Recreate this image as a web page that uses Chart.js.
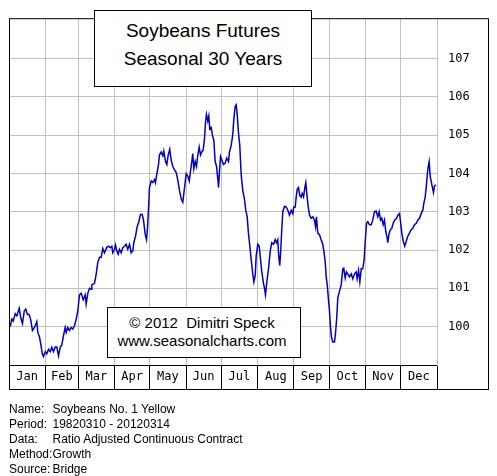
<!DOCTYPE html>
<html>
<head>
<meta charset="utf-8">
<title>Soybeans Futures Seasonal 30 Years</title>
<script src="https://cdn.jsdelivr.net/npm/chart.js@4.4.1/dist/chart.umd.min.js"></script>
<style>
  body { margin: 0; background: #fff; }
  #wrap { position: relative; width: 497px; height: 476px; }
  #chartBox { position: absolute; left: 0; top: 0; width: 497px; height: 476px; }
  .box {
    position: absolute; box-sizing: border-box; border: 1px solid #000; background: #fff;
    font-family: "Liberation Sans", Arial, sans-serif; color: #000; text-align: center; white-space: pre;
  }
  #titleBox { left: 94px; top: 10px; width: 218px; height: 77px; font-size: 19px; line-height: 28px; padding-top: 6px; }
  #copyBox { left: 107px; top: 307px; width: 194px; height: 51px; font-size: 15px; line-height: 18px; padding-top: 6px; padding-right: 4px; }
  #info { position: absolute; left: 9px; top: 402px; font-family: "Liberation Sans", Arial, sans-serif; font-size: 12px; line-height: 15px; color: #000; white-space: nowrap; }
  #info span { display: inline-block; width: 43.5px; }
</style>
</head>
<body>
<div id="wrap">
  <div id="chartBox"><canvas id="seasonalChart"></canvas></div>
  <div class="box" id="titleBox">Soybeans Futures
Seasonal 30 Years</div>
  <div class="box" id="copyBox">© 2012  Dimitri Speck
www.seasonalcharts.com</div>
  <div id="info">
    <div><span>Name:</span>Soybeans No. 1 Yellow</div>
    <div><span>Period:</span>19820310 - 20120314</div>
    <div><span>Data:</span>Ratio Adjusted Continuous Contract</div>
    <div><span>Method:</span>Growth</div>
    <div><span>Source:</span>Bridge</div>
  </div>
</div>
<script>
  // day of year and seasonal index
  const days = [
    1.0, 2.4, 3.6, 5.3, 6.7, 8.7, 10.1, 11.5, 13.0, 14.3, 15.8, 17.2, 18.6, 20.0, 21.7, 23.7, 24.6, 26.0, 27.5, 28.3,
    29.4, 30.9, 32.2, 33.7, 35.1, 36.5, 37.9, 39.4, 40.8, 42.2, 43.7, 45.0, 46.5, 47.9, 48.8, 50.1, 51.6, 53.0, 54.4, 55.9,
    57.3, 58.7, 60.1, 61.6, 63.3, 65.0, 65.8, 67.2, 68.7, 70.1, 70.6, 72.9, 74.4, 75.7, 77.2, 78.6, 80.0, 81.4, 83.4, 84.9,
    86.3, 87.7, 88.5, 90.0, 90.8, 91.9, 93.1, 94.2, 95.7, 97.0, 98.5, 99.9, 101.3, 102.8, 104.2, 105.6, 106.4, 107.9, 109.3, 110.7,
    112.1, 113.6, 114.7, 116.2, 117.3, 118.1, 119.0, 119.8, 121.3, 122.6, 124.1, 124.9, 126.0, 127.5, 128.3, 129.8, 131.2, 132.0, 133.5, 134.6,
    135.8, 137.1, 138.3, 139.7, 141.1, 142.6, 143.9, 145.4, 146.9, 148.2, 149.7, 151.1, 152.5, 153.7, 154.8, 155.9, 156.7, 157.6, 158.8, 159.9,
    161.0, 162.2, 163.3, 164.4, 165.6, 166.7, 167.6, 168.4, 169.5, 170.4, 171.2, 172.4, 173.5, 174.7, 175.8, 177.0, 178.1, 178.7, 179.5, 180.4,
    181.5, 182.9, 184.4, 185.7, 187.2, 188.0, 189.5, 190.9, 191.7, 192.9, 193.8, 194.6, 195.7, 196.8, 198.0, 199.4, 200.8, 201.9, 203.1, 204.2,
    205.4, 206.5, 207.7, 208.8, 210.0, 210.8, 212.2, 213.4, 214.5, 215.6, 216.8, 217.9, 218.7, 219.9, 221.3, 222.8, 224.1, 225.6, 227.0, 228.1,
    229.2, 230.1, 230.9, 231.8, 232.6, 233.5, 235.0, 236.4, 237.8, 239.2, 240.7, 242.0, 242.9, 244.1, 244.9, 245.8, 246.9, 248.0, 249.2, 250.0,
    251.2, 252.3, 253.1, 254.0, 255.2, 256.3, 257.7, 259.1, 260.5, 261.4, 262.2, 263.3, 264.8, 266.2, 267.6, 268.5, 269.7, 270.5, 271.4, 272.2,
    273.3, 274.2, 275.0, 276.1, 277.6, 278.4, 279.5, 280.4, 281.8, 283.3, 284.7, 285.5, 286.7, 287.8, 288.9, 290.4, 291.8, 293.2, 294.6, 296.1,
    296.9, 298.1, 299.2, 300.4, 301.7, 302.9, 303.8, 304.9, 306.0, 307.4, 308.9, 310.2, 311.7, 313.1, 314.5, 315.7, 316.8, 317.9, 319.1, 320.2,
    321.3, 322.5, 323.0, 324.2, 325.3, 326.5, 327.6, 328.8, 330.5, 331.6, 333.0, 333.9, 335.0, 336.2, 337.5, 338.7, 340.1, 341.5, 343.0, 344.4,
    345.8, 347.3, 348.6, 350.1, 351.5, 352.9, 353.7, 354.9, 355.8, 356.6, 357.5, 358.3, 359.2, 360.0, 361.1, 362.0, 362.8, 364.0
  ];
  const values = [
    100.0, 100.2, 100.15, 100.34, 100.28, 100.48, 100.22, 100.08, 100.41, 100.46, 100.32, 100.32, 100.17, 99.9, 99.98, 100.13, 99.85, 99.73, 99.47, 99.3,
    99.22, 99.35, 99.29, 99.41, 99.35, 99.46, 99.35, 99.47, 99.47, 99.24, 99.47, 99.52, 99.77, 99.98, 99.85, 99.98, 99.9, 99.98, 99.94, 100.03,
    100.2, 100.41, 100.83, 100.87, 100.7, 100.83, 100.59, 100.87, 101.0, 100.98, 101.09, 101.13, 101.38, 101.68, 101.81, 101.81, 102.04, 101.93, 102.07, 102.1,
    102.06, 102.1, 101.93, 102.02, 102.13, 101.98, 101.89, 102.02, 101.93, 102.06, 102.1, 102.15, 102.02, 102.15, 101.93, 101.98, 102.19, 102.36, 102.61, 102.74,
    102.93, 102.93, 102.78, 102.4, 102.27, 102.57, 103.08, 103.63, 103.8, 103.76, 103.84, 103.76, 103.97, 104.23, 104.48, 104.56, 104.46, 104.58, 104.31, 104.23,
    104.48, 104.63, 104.35, 104.18, 104.1, 104.02, 103.84, 103.55, 103.33, 103.25, 103.63, 103.99, 103.93, 103.8, 104.06, 104.31, 104.52, 104.12, 104.31, 104.18,
    104.48, 104.69, 104.48, 104.56, 104.61, 104.9, 105.33, 105.54, 105.37, 105.5, 105.16, 105.2, 104.99, 104.86, 104.31, 104.18, 103.84, 103.63, 104.06, 104.44,
    104.35, 104.23, 104.27, 104.4, 104.31, 104.56, 104.73, 105.03, 105.41, 105.75, 105.79, 105.54, 105.07, 104.73, 103.97, 103.55, 103.33, 103.04, 102.87, 102.44,
    102.1, 101.76, 101.43, 101.17, 101.34, 101.85, 102.15, 102.1, 101.76, 101.43, 101.17, 101.0, 100.83, 101.17, 101.51, 101.98, 102.19, 102.15, 102.27, 102.19,
    102.27, 101.81, 101.6, 102.02, 102.53, 103.0, 103.14, 103.12, 103.04, 102.91, 103.04, 102.95, 103.12, 103.12, 103.38, 103.59, 103.63, 103.42, 103.38, 103.48,
    103.39, 103.63, 103.76, 103.46, 103.12, 102.91, 102.83, 102.87, 102.78, 102.61, 102.87, 102.44, 102.4, 102.27, 102.15, 101.98, 101.68, 101.3, 101.09, 100.79,
    100.41, 99.98, 99.73, 99.6, 99.6, 99.81, 100.24, 100.75, 100.92, 101.09, 101.51, 101.53, 101.27, 101.43, 101.38, 101.3, 101.38, 101.25, 101.38, 101.43,
    101.25, 101.47, 101.17, 101.51, 101.51, 101.76, 102.23, 102.7, 102.74, 102.66, 102.66, 102.78, 103.0, 103.02, 102.87, 103.0, 102.78, 102.83, 102.66, 102.78,
    102.49, 102.32, 102.19, 102.44, 102.53, 102.57, 102.7, 102.78, 102.83, 102.91, 102.95, 102.74, 102.44, 102.23, 102.1, 102.23, 102.36, 102.44, 102.53, 102.57,
    102.66, 102.7, 102.78, 102.83, 102.95, 103.04, 103.21, 103.38, 103.63, 103.93, 104.18, 104.31, 103.93, 103.8, 103.63, 103.5, 103.67, 103.7
  ];
  const monthNames = ["Jan", "Feb", "Mar", "Apr", "May", "Jun", "Jul", "Aug", "Sep", "Oct", "Nov", "Dec"];
  const monthStarts = [0, 31, 59, 90, 120, 151, 181, 212, 243, 273, 304, 334, 365];
  const yTicks = [100, 101, 102, 103, 104, 105, 106, 107];

  const monthMids = monthNames.map((m, i) => (monthStarts[i] + monthStarts[i + 1]) / 2);
  const xTicks = monthStarts.concat(monthMids).sort((a, b) => a - b);
  const isStart = (c) => c.tick && monthStarts.includes(c.tick.value);

  // black frame round plot area, month row and right labels
  const framePlugin = {
    id: "frame",
    afterDraw(chart) {
      const { ctx, chartArea, scales } = chart;
      ctx.save();
      ctx.strokeStyle = "#000";
      ctx.lineWidth = 1;
      ctx.strokeRect(chartArea.left + 0.5, chartArea.top + 0.5,
        scales.y.right - chartArea.left, scales.x.bottom - chartArea.top);
      ctx.restore();
    }
  };

  const ctx = document.getElementById("seasonalChart").getContext("2d");
  const seasonalChart = new Chart(ctx, {
    type: "line",
    data: {
      datasets: [{
        data: days.map((d, i) => ({ x: d, y: values[i] })),
        borderColor: "#0000c8",
        borderWidth: 1.5,
        pointRadius: 0,
        tension: 0
      }]
    },
    options: {
      responsive: true,
      maintainAspectRatio: false,
      animation: false,
      layout: { padding: { left: 9, top: 10, right: 9, bottom: 87 } },
      plugins: { legend: { display: false }, tooltip: { enabled: false } },
      scales: {
        x: {
          type: "linear",
          min: 0,
          max: 365,
          afterBuildTicks: (s) => { s.ticks = xTicks.map(v => ({ value: v })); },
          afterFit: (s) => { s.height = 24; },
          grid: {
            color: (c) => isStart(c) ? "#c0c0c0" : "rgba(0,0,0,0)",
            tickColor: (c) => isStart(c) ? "#000" : "rgba(0,0,0,0)",
            tickLength: 24,
            lineWidth: 1
          },
          border: { color: "#000" },
          ticks: {
            autoSkip: false,
            maxRotation: 0,
            padding: -19,
            color: "#000",
            font: { family: "DejaVu Sans Mono", size: 12 },
            callback: (v) => {
              const i = monthMids.indexOf(v);
              return i >= 0 ? monthNames[i] : "";
            }
          }
        },
        y: {
          position: "right",
          min: 99,
          max: 108.05,
          afterBuildTicks: (s) => { s.ticks = yTicks.map(v => ({ value: v })); },
          afterFit: (s) => { s.width = 51; },
          grid: { color: "#c0c0c0", drawTicks: false, lineWidth: 1 },
          border: { color: "#c0c0c0" },
          ticks: {
            padding: 11,
            color: "#000",
            font: { family: "DejaVu Sans Mono", size: 12 }
          }
        }
      }
    },
    plugins: [framePlugin]
  });
</script>
</body>
</html>
